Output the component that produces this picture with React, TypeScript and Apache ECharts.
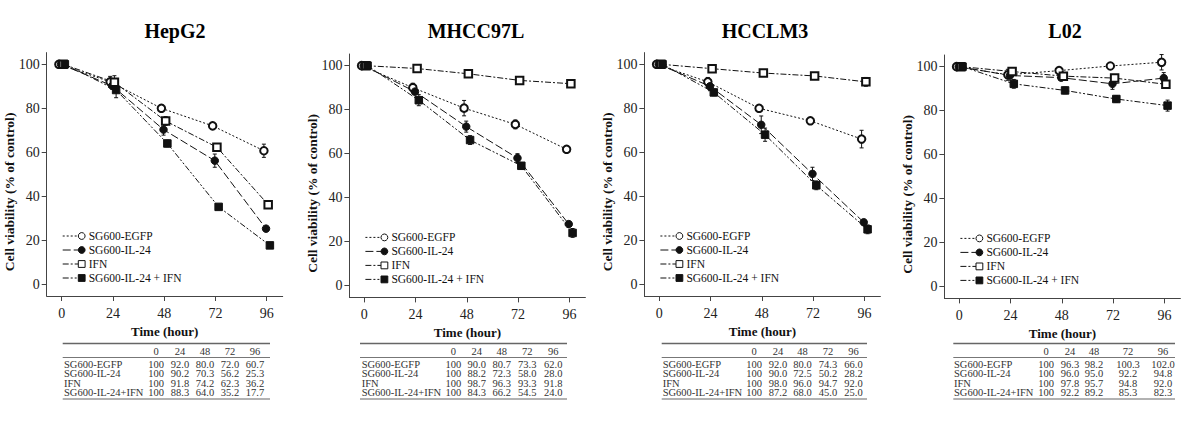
import React, { useEffect, useRef } from 'react';
import * as echarts from 'echarts';

const hours = [0, 24, 48, 72, 96];
const yTicks = [0, 20, 40, 60, 80, 100];
const panelTitles = ['HepG2', 'MHCC97L', 'HCCLM3', 'L02'];
const groups = ['SG600-EGFP', 'SG600-IL-24', 'IFN', 'SG600-IL-24 + IFN'];
const tableGroups = ['SG600-EGFP', 'SG600-IL-24', 'IFN', 'SG600-IL-24+IFN'];
const xTitle = 'Time (hour)';
const yTitle = 'Cell viability (% of control)';

const hepg2 = [
  [100, 92.0, 80.0, 72.0, 60.7],
  [100, 90.2, 70.3, 56.2, 25.3],
  [100, 91.8, 74.2, 62.3, 36.2],
  [100, 88.3, 64.0, 35.2, 17.7],
];
const mhcc97l = [
  [100, 90.0, 80.7, 73.3, 62.0],
  [100, 88.2, 72.3, 58.0, 28.0],
  [100, 98.7, 96.3, 93.3, 91.8],
  [100, 84.3, 66.2, 54.5, 24.0],
];
const hcclm3 = [
  [100, 92.0, 80.0, 74.3, 66.0],
  [100, 90.0, 72.5, 50.2, 28.2],
  [100, 98.0, 96.0, 94.7, 92.0],
  [100, 87.2, 68.0, 45.0, 25.0],
];
const l02 = [
  [100, 96.3, 98.2, 100.3, 102.0],
  [100, 96.0, 95.0, 92.2, 94.8],
  [100, 97.8, 95.7, 94.8, 92.0],
  [100, 92.2, 89.2, 85.3, 82.3],
];

// error bar half-lengths
const hepg2Err = [
  [0, 2.5, 1.5, 1.5, 3.0],
  [0, 1.5, 2.5, 3.0, 1.0],
  [0, 3.0, 2.0, 0.5, 0.5],
  [0, 3.5, 1.5, 0.5, 1.0],
];
const mhcc97lErr = [
  [0, 2.0, 3.5, 2.0, 0.5],
  [0, 1.0, 2.5, 2.0, 0.5],
  [0, 1.0, 0.5, 0.5, 0.5],
  [0, 2.5, 2.0, 1.5, 2.0],
];
const hcclm3Err = [
  [0, 2.0, 1.5, 1.0, 4.0],
  [0, 2.0, 4.0, 3.0, 0.5],
  [0, 0.5, 1.0, 1.0, 2.0],
  [0, 1.5, 3.0, 2.0, 2.0],
];
const l02Err = [
  [0, 2.5, 1.0, 1.0, 3.5],
  [0, 1.5, 1.0, 2.5, 2.5],
  [0, 1.0, 1.0, 1.0, 1.5],
  [0, 2.0, 1.5, 1.5, 2.5],
];

// small horizontal dodge (hours) per group, as in the original plot
const dodge = [-1.3, -0.3, 0.7, 1.5];

const panelValues = [hepg2, mhcc97l, hcclm3, l02];
const panelErrors = [hepg2Err, mhcc97lErr, hcclm3Err, l02Err];

const symbols = ['emptyCircle', 'circle', 'emptyRect', 'rect'];
const dashes = [[2, 2], [8, 3], [6, 2, 2, 2], [6, 2, 2, 2, 2, 2]];

const layout = [
  { left: 46.7, top: 52.6, bottom: 296, titleX: 170, tableLeft: 62.7, tableRight: 270, labelX: 64, cols: [156, 180, 205, 230, 255] },
  { left: 349.4, top: 54, bottom: 297.4, titleX: 471, tableLeft: 360, tableRight: 567, labelX: 361.7, cols: [453.3, 476.7, 501.7, 527.3, 553.3] },
  { left: 644.4, top: 52.6, bottom: 296, titleX: 760, tableLeft: 661.7, tableRight: 867, labelX: 662.7, cols: [754, 778, 802.5, 828, 853.5] },
  { left: 944.4, top: 55, bottom: 298.4, titleX: 1060, tableLeft: 953.3, tableRight: 1175, labelX: 954, cols: [1046, 1070, 1094, 1128, 1163] },
];
const plotWidth = 236;

const SERIF = '"Liberation Serif", "Times New Roman", serif';
const INK = '#111';
const AXIS = '#444';

function buildOption() {
  const grids: any[] = [];
  const xAxes: any[] = [];
  const yAxes: any[] = [];
  const titles: any[] = [];
  const series: any[] = [];
  const graphics: any[] = [];

  layout.forEach((L, p) => {
    grids.push({
      left: L.left,
      top: L.top,
      width: plotWidth,
      height: L.bottom - L.top,
      containLabel: false,
      outerBoundsMode: 'none',
    });
    titles.push({
      text: panelTitles[p],
      left: L.titleX,
      top: 16,
      textAlign: 'center',
      textStyle: { fontFamily: SERIF, fontWeight: 'bold', fontSize: 20, color: '#000' },
    });
    xAxes.push({
      type: 'value',
      gridIndex: p,
      min: -7,
      max: 103.5,
      axisLine: { show: true, onZero: false, lineStyle: { color: AXIS, width: 1 } },
      axisTick: { show: true, customValues: hours, length: 5, lineStyle: { color: AXIS } },
      axisLabel: { customValues: hours, margin: 10, fontFamily: SERIF, fontSize: 14, color: '#222' },
      splitLine: { show: false },
      name: xTitle,
      nameLocation: 'middle',
      nameGap: 29,
      nameTextStyle: { fontFamily: SERIF, fontWeight: 'bold', fontSize: 13, color: INK },
    });
    yAxes.push({
      type: 'value',
      gridIndex: p,
      min: -5.3,
      max: 105.3,
      axisLine: { show: true, onZero: false, lineStyle: { color: AXIS, width: 1 } },
      axisTick: { show: true, customValues: yTicks, length: 5, lineStyle: { color: AXIS } },
      axisLabel: { customValues: yTicks, margin: 7, fontFamily: SERIF, fontSize: 14, color: '#222' },
      splitLine: { show: false },
    });

    // y axis title (sits a little below the axis middle, as in the original)
    graphics.push({
      type: 'text',
      silent: true,
      x: L.left - 37,
      y: L.bottom - 104,
      rotation: Math.PI / 2,
      style: {
        text: yTitle,
        fill: INK,
        font: `bold 13.5px ${SERIF}`,
        align: 'center',
        verticalAlign: 'middle',
      },
    });

    const vals = panelValues[p];
    const errs = panelErrors[p];
    groups.forEach((name, g) => {
      series.push({
        type: 'custom',
        name: name + ' error',
        xAxisIndex: p,
        yAxisIndex: p,
        silent: true,
        z: 1,
        data: hours.map((h, i) => [h + dodge[g], vals[g][i] - errs[g][i], vals[g][i] + errs[g][i]]),
        encode: { x: 0, y: [1, 2] },
        renderItem: (_params: any, api: any) => {
          const x = api.value(0);
          const lo = api.value(1);
          const hi = api.value(2);
          if (hi - lo <= 0) return null;
          const a = api.coord([x, lo]);
          const b = api.coord([x, hi]);
          const cw = 2;
          const st = { stroke: INK, lineWidth: 1 };
          return {
            type: 'group',
            children: [
              { type: 'line', shape: { x1: a[0], y1: a[1], x2: b[0], y2: b[1] }, style: st },
              { type: 'line', shape: { x1: a[0] - cw, y1: a[1], x2: a[0] + cw, y2: a[1] }, style: st },
              { type: 'line', shape: { x1: b[0] - cw, y1: b[1], x2: b[0] + cw, y2: b[1] }, style: st },
            ],
          };
        },
      });
      series.push({
        type: 'line',
        name,
        xAxisIndex: p,
        yAxisIndex: p,
        z: 3,
        data: hours.map((h, i) => [h + dodge[g], vals[g][i]]),
        symbol: symbols[g],
        symbolSize: 7.5,
        showAllSymbol: true,
        lineStyle: { color: INK, width: 1, type: dashes[g] },
        itemStyle: { color: INK, borderColor: INK, borderWidth: 1 },
      });
    });

    // legend drawn inside the plot (bottom-left)
    groups.forEach((name, g) => {
      const y = L.bottom - 60 + g * 14;
      const x0 = L.left + 16;
      const mx = L.left + 35;
      graphics.push({
        type: 'line',
        silent: true,
        shape: { x1: x0, y1: y, x2: mx - 3, y2: y },
        style: { stroke: INK, lineWidth: 1, lineDash: dashes[g] },
      });
      const filled = g === 1 || g === 3;
      if (g < 2) {
        graphics.push({
          type: 'circle',
          silent: true,
          shape: { cx: mx, cy: y, r: 3.4 },
          style: { fill: filled ? INK : '#fff', stroke: INK, lineWidth: 1 },
        });
      } else {
        graphics.push({
          type: 'rect',
          silent: true,
          shape: { x: mx - 3.4, y: y - 3.4, width: 6.8, height: 6.8 },
          style: { fill: filled ? INK : '#fff', stroke: INK, lineWidth: 1 },
        });
      }
      graphics.push({
        type: 'text',
        silent: true,
        x: L.left + 42,
        y,
        style: { text: name, fill: INK, font: `11.5px ${SERIF}`, align: 'left', verticalAlign: 'middle' },
      });
    });

    // data table under the plot
    const tFont = `10.5px ${SERIF}`;
    const tColor = '#333';
    graphics.push({
      type: 'line', silent: true,
      shape: { x1: L.tableLeft, y1: 343.5, x2: L.tableRight, y2: 343.5 },
      style: { stroke: '#666', lineWidth: 1.5 },
    });
    graphics.push({
      type: 'line', silent: true,
      shape: { x1: L.tableLeft, y1: 357.5, x2: L.tableRight, y2: 357.5 },
      style: { stroke: '#777', lineWidth: 1 },
    });
    graphics.push({
      type: 'line', silent: true,
      shape: { x1: L.tableLeft, y1: 399, x2: L.tableRight, y2: 399 },
      style: { stroke: '#666', lineWidth: 1.2 },
    });
    hours.forEach((h, i) => {
      graphics.push({
        type: 'text', silent: true, x: L.cols[i], y: 351,
        style: { text: String(h), fill: tColor, font: tFont, align: 'center', verticalAlign: 'middle' },
      });
    });
    const rowY = [364, 373.5, 383, 392.3];
    tableGroups.forEach((label, g) => {
      graphics.push({
        type: 'text', silent: true, x: L.labelX, y: rowY[g],
        style: { text: label, fill: tColor, font: tFont, align: 'left', verticalAlign: 'middle' },
      });
      vals[g].forEach((v, i) => {
        graphics.push({
          type: 'text', silent: true, x: L.cols[i], y: rowY[g],
          style: {
            text: i === 0 ? String(v) : v.toFixed(1),
            fill: tColor, font: tFont, align: 'center', verticalAlign: 'middle',
          },
        });
      });
    });
  });

  return {
    animation: false,
    backgroundColor: '#fff',
    title: titles,
    grid: grids,
    xAxis: xAxes,
    yAxis: yAxes,
    series,
    graphic: { elements: graphics },
  };
}

export default function App() {
  const ref = useRef<HTMLDivElement>(null);
  useEffect(() => {
    if (!ref.current) return;
    const chart = echarts.init(ref.current, null, { renderer: 'svg' });
    chart.setOption(buildOption() as any);
    return () => chart.dispose();
  }, []);
  return (
    <div
      ref={ref}
      style={{ position: 'fixed', left: 0, top: 0, width: 1200, height: 426, background: '#fff' }}
    />
  );
}
